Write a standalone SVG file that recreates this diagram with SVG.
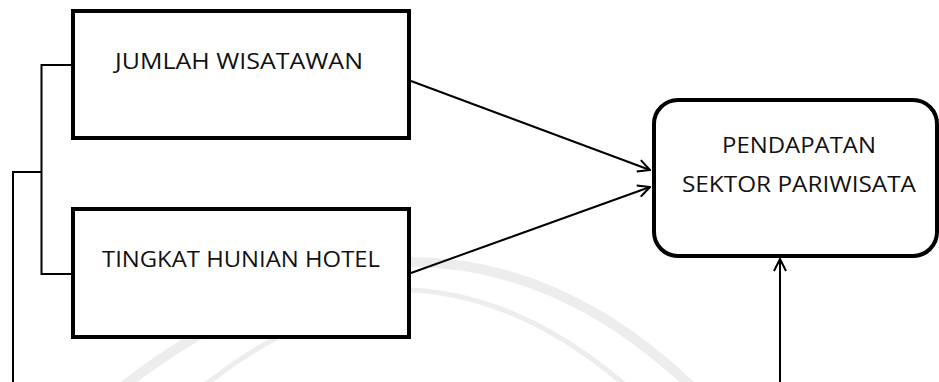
<svg xmlns="http://www.w3.org/2000/svg" width="939" height="382" viewBox="0 0 939 382">
  <style>
    .box { fill: #ffffff; stroke: #000000; stroke-width: 4; }
    .label { font-family: "Open Sans", "Liberation Sans", sans-serif; font-size: 22px; fill: #111111; text-anchor: start; }
    .wire { fill: none; stroke: #000000; stroke-width: 2; }
    .mark { fill: none; stroke: #ededed; stroke-linecap: round; }
  </style>
  <defs>
    <marker id="open-arrow" viewBox="0 0 14 14" refX="13" refY="7" markerWidth="14" markerHeight="14" markerUnits="userSpaceOnUse" orient="auto">
      <path d="M1,1 L13,7 L1,13" fill="none" stroke="#000000" stroke-width="2"/>
    </marker>
  </defs>

  <!-- faint background emblem -->
  <g id="emblem">
    <path class="mark" stroke-width="10" d="M125,385 Q260,280 410,262 Q560,262 690,385"/>
    <path class="mark" stroke-width="5" d="M205,385 Q300,310 410,290 Q520,295 625,385"/>
  </g>

  <g id="node-jumlah-wisatawan">
    <rect class="box" x="73" y="11" width="336" height="127"/>
    <text class="label" x="115" y="69" textLength="248" lengthAdjust="spacingAndGlyphs">JUMLAH WISATAWAN</text>
  </g>

  <g id="node-tingkat-hunian-hotel">
    <rect class="box" x="73" y="209" width="336" height="128"/>
    <text class="label" x="102" y="267" textLength="278" lengthAdjust="spacingAndGlyphs">TINGKAT HUNIAN HOTEL</text>
  </g>

  <g id="node-pendapatan">
    <rect class="box" x="654" y="100" width="283" height="156" rx="24" ry="24"/>
    <text class="label" x="722" y="153" textLength="154" lengthAdjust="spacingAndGlyphs">PENDAPATAN</text>
    <text class="label" x="682" y="192" textLength="234" lengthAdjust="spacingAndGlyphs">SEKTOR PARIWISATA</text>
  </g>

  <g id="connectors">
    <!-- bracket joining the two input variables -->
    <polyline class="wire" points="71,65 41.5,65 41.5,274 71,274"/>
    <polyline class="wire" points="41.5,172 13,172 13,382"/>
    <!-- arrows into the revenue node -->
    <line class="wire" x1="411" y1="81" x2="650" y2="170" marker-end="url(#open-arrow)"/>
    <line class="wire" x1="411" y1="273" x2="650" y2="187" marker-end="url(#open-arrow)"/>
    <line class="wire" x1="780" y1="382" x2="780" y2="259" marker-end="url(#open-arrow)"/>
  </g>
</svg>
